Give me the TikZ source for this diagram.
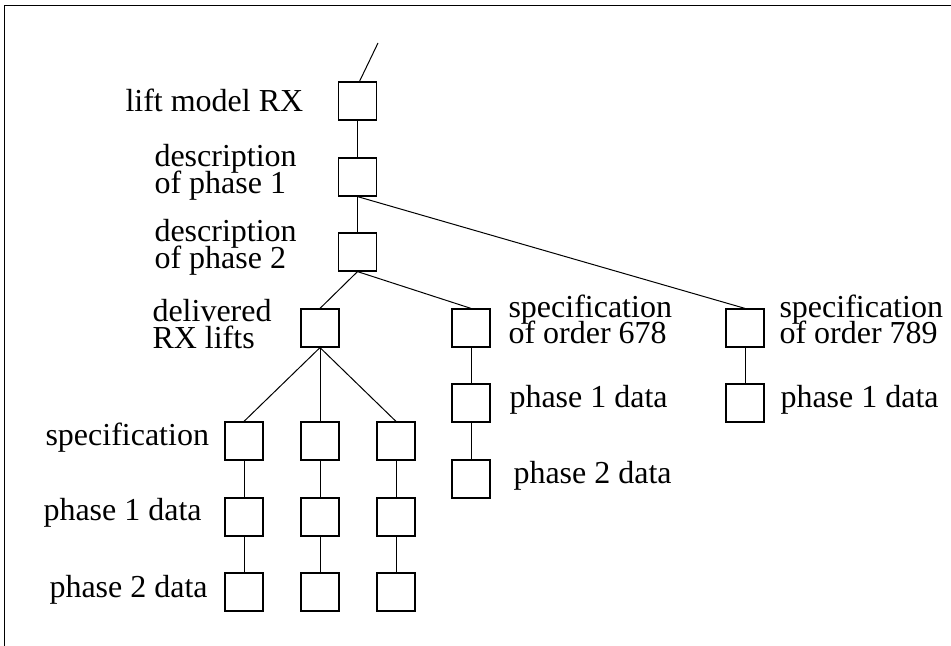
\documentclass[tikz,border=0pt]{standalone}
\usepackage{fontspec}
\setmainfont{Liberation Serif}
\begin{document}
\begin{tikzpicture}[x=0.5pt,y=-0.5pt,line width=0.5pt,
  box/.style={draw,line width=0.6pt,minimum size=19pt,inner sep=0pt},
  lbl/.style={inner sep=0pt,align=left,
    font={\fontsize{16}{13.2}\selectfont\lineskiplimit=-20pt}}]
\useasboundingbox (0,0) rectangle (951,646);
\draw (951,6) -- (4,6) -- (4,646);
% main spine
\node [box] (lift) at (357.5,101) {};
\node [box] (desc1) at (357.5,177) {};
\node [box] (desc2) at (357.5,252) {};
\node [box] (deliv) at (320,328) {};
\node [box] (ord678) at (471,328) {};
\node [box] (ord789) at (745,328) {};
\node [box] (p1o678) at (471,403) {};
\node [box] (p2o678) at (471,479) {};
\node [box] (p1o789) at (745,403) {};
% delivered lifts, three columns
\node [box] (specA) at (244,441) {};
\node [box] (specB) at (320,441) {};
\node [box] (specC) at (396,441) {};
\node [box] (p1A) at (244,517) {};
\node [box] (p1B) at (320,517) {};
\node [box] (p1C) at (396,517) {};
\node [box] (p2A) at (244,592) {};
\node [box] (p2B) at (320,592) {};
\node [box] (p2C) at (396,592) {};
% labels
\node [lbl,anchor=base west] (tlift) at (125,112) {lift model RX};
\node [lbl,anchor=north west] (tdesc1) at (154,144) {description\\of phase 1};
\node [lbl,anchor=north west] (tdesc2) at (154,219) {description\\of phase 2};
\node [lbl,anchor=north west] (tdeliv) at (152,299) {delivered\\RX lifts};
\node [lbl,anchor=north west] (tord678) at (508,294) {specification\\of order 678};
\node [lbl,anchor=north west] (tord789) at (779,294) {specification\\of order 789};
\node [lbl,anchor=base west] (tp1o678) at (509,407) {phase 1 data};
\node [lbl,anchor=base west] (tp2o678) at (513,483) {phase 2 data};
\node [lbl,anchor=base west] (tp1o789) at (780,407) {phase 1 data};
\node [lbl,anchor=base west] (tspec) at (45,445) {specification};
\node [lbl,anchor=base west] (tp1) at (43,520) {phase 1 data};
\node [lbl,anchor=base west] (tp2) at (49,597) {phase 2 data};
% connectors
\coordinate (up) at (378,43);
\draw ([xshift=1pt]lift.north) -- (up);
\draw (lift) -- (desc1);
\draw (desc1) -- (desc2);
\draw (desc1.south) -- (ord789.north);
\draw (desc2.south) -- (deliv.north);
\draw (desc2.south) -- (ord678.north);
\draw (ord678) -- (p1o678);
\draw (p1o678) -- (p2o678);
\draw (ord789) -- (p1o789);
\foreach \c in {A,B,C} {
  \draw (deliv.south) -- (spec\c.north);
  \draw (spec\c) -- (p1\c);
  \draw (p1\c) -- (p2\c);
}
\end{tikzpicture}
\end{document}
